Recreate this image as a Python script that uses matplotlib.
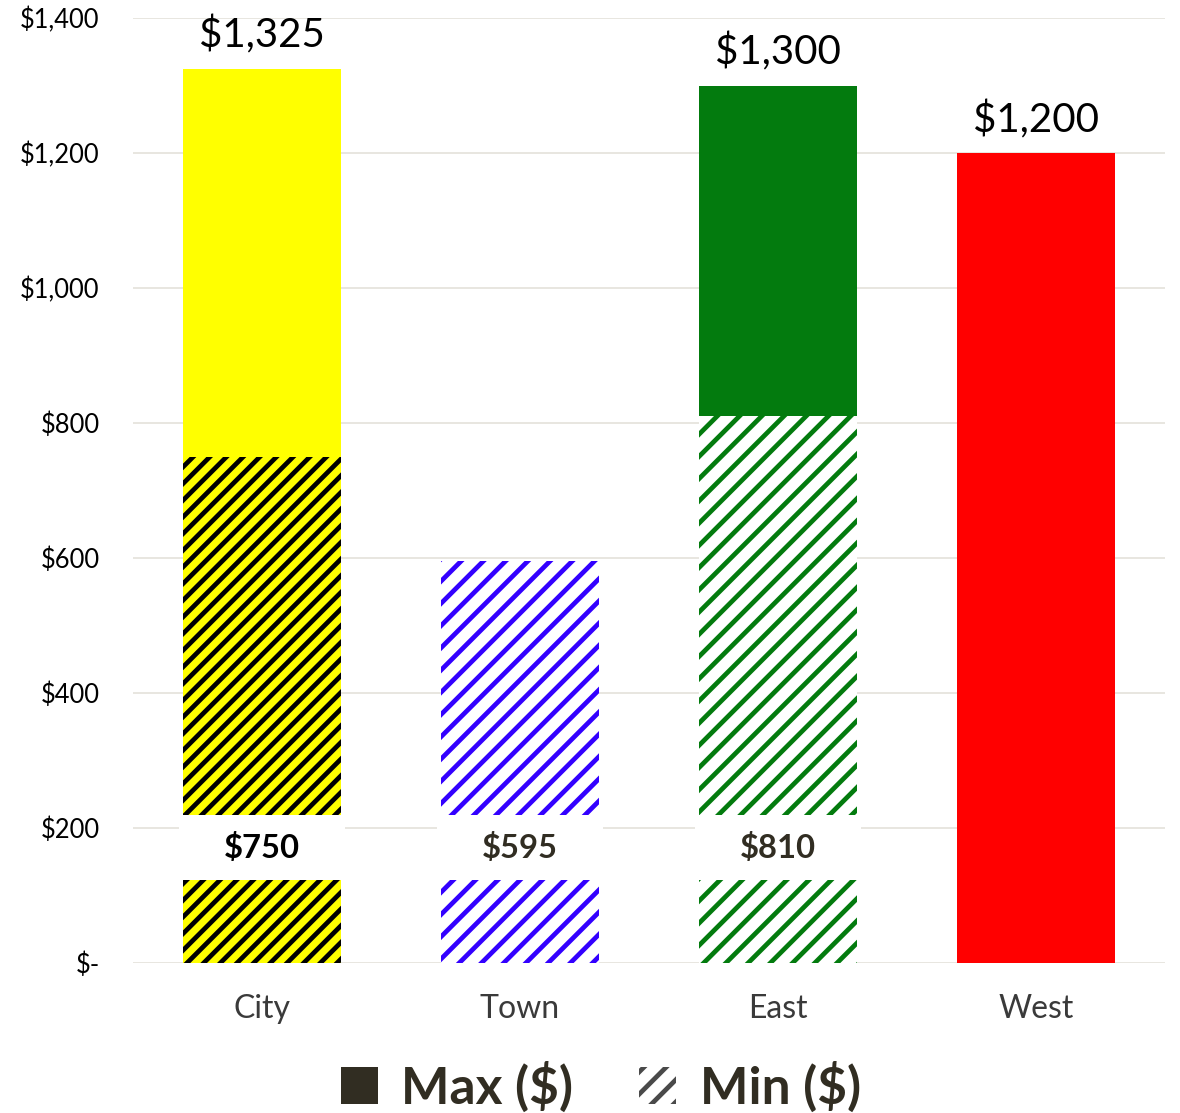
"""
max and min monthly price per location, min drawn as hatched bars in front of
the max bars, with value labels on both
"""
# packages
import numpy as np
import matplotlib
matplotlib.use('Agg')
import matplotlib.pyplot as plt
from matplotlib.patches import Patch
from matplotlib.ticker import FuncFormatter, MultipleLocator

LOCATIONS = ['City', 'Town', 'East', 'West']
MAX_PRICE = [1325, 0, 1300, 1200]   # 0 means no max value
MIN_PRICE = [750, 595, 810, 0]      # 0 means no min value

MAX_COLORS = ['#FFFF00', '#3300FF', '#037B0E', '#FF0000']
MIN_FACE = ['#FFFF00', 'white', 'white', 'white']
MIN_HATCH_COLOR = ['black', '#3300FF', '#037B0E', '#FF0000']
MIN_HATCH = ['////', '///', '///', '///']

DARK = '#312D22'
LABEL_Y = 171  # height of the min value labels, $
LABEL_BOX = 97  # height of the white box behind them, $
BAR_WIDTH = 0.615

plt.rcParams['font.family'] = ['Lato', 'DejaVu Sans']
plt.rcParams['hatch.linewidth'] = 1.7  # read at draw time, shared by all hatched bars

fig = plt.figure(figsize=(5.9, 5.565), dpi=200)
ax = fig.add_axes([0.1127, 0.1348, 0.8746, 0.849])
x = np.arange(len(LOCATIONS))

ax.bar(x, MAX_PRICE, width=BAR_WIDTH, color=MAX_COLORS, linewidth=0, zorder=2)
for xi, lo, face, hc, hatch in zip(x, MIN_PRICE, MIN_FACE, MIN_HATCH_COLOR, MIN_HATCH):
    if lo <= 0:
        continue
    ax.bar(xi, lo, width=BAR_WIDTH, facecolor=face, edgecolor=hc, hatch=hatch,
           linewidth=0, zorder=3)
    # white label box across the bar, then the bold value
    ax.bar(xi, LABEL_BOX, bottom=LABEL_Y - LABEL_BOX / 2, width=BAR_WIDTH + 0.025,
           color='white', linewidth=0, zorder=4)
    ax.text(xi, LABEL_Y, f"${lo:,.0f}", ha='center', va='center', fontsize=11.8,
            fontweight='bold', color='black' if xi == 0 else DARK, zorder=5)

for xi, hi in zip(x, MAX_PRICE):
    if hi > 0:
        ax.annotate(f"${hi:,.0f}", xy=(xi, hi), xytext=(0, 5), textcoords='offset points',
                    ha='center', va='bottom', fontsize=14.5, color='black', zorder=5)

ax.set_xlim(-0.5, 3.5)
ax.set_ylim(0, 1400)
ax.yaxis.set_major_locator(MultipleLocator(200))
ax.yaxis.set_major_formatter(FuncFormatter(lambda v, _: '$-' if v == 0 else f"${v:,.0f}"))
ax.set_xticks(x, LOCATIONS)
ax.tick_params(axis='y', length=0, pad=12, labelsize=9.2, labelcolor='black')
ax.tick_params(axis='x', length=0, pad=11, labelsize=11.5, labelcolor='#3A3A3A')
ax.grid(axis='y', color='#E2DFD7', linewidth=0.55, zorder=0)
ax.set_axisbelow(True)
for side in ['top', 'right', 'left', 'bottom']:
    ax.spines[side].set_visible(False)

handles = [Patch(facecolor=DARK, edgecolor=DARK, linewidth=0),
           Patch(facecolor='white', edgecolor='#4A4A4A', hatch='///', linewidth=0)]
fig.legend(handles, ['Max ($)', 'Min ($)'], loc='center', bbox_to_anchor=(0.509, 1 - 1087 / 1113),
           ncol=2, frameon=False, handlelength=0.72, handleheight=0.72, handletextpad=0.45,
           columnspacing=1.3, prop=dict(size=18.5, weight='bold'), labelcolor=DARK)

fig.savefig('out.png', dpi=200)
